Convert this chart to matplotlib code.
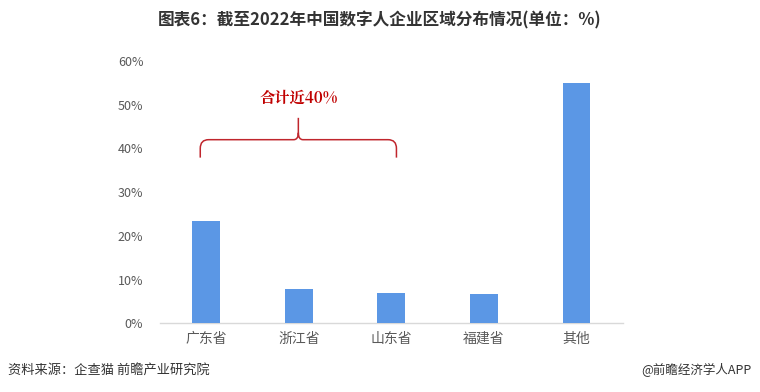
import matplotlib
matplotlib.use("Agg")
import matplotlib.pyplot as plt
from matplotlib.path import Path
from matplotlib.patches import PathPatch

plt.rcParams['font.family'] = ['Noto Sans CJK SC', 'DejaVu Sans']

categories = ['广东省', '浙江省', '山东省', '福建省', '其他']
values = [23.3, 7.9, 6.9, 6.6, 54.9]
yticks = [0, 10, 20, 30, 40, 50, 60]
ytick_labels = ['0%', '10%', '20%', '30%', '40%', '50%', '60%']
title = '图表6：截至2022年中国数字人企业区域分布情况(单位：%)'
annot = '合计近40%'
source = '资料来源：企查猫 前瞻产业研究院'
credit = '@前瞻经济学人APP'

fig = plt.figure(figsize=(7.6, 3.92), dpi=100)
ax = fig.add_axes([160/760, 1-323.3/392, 462.7/760, (323.3-61)/392])

x = list(range(len(categories)))
ax.bar(x, values, width=0.3, color='#5B97E5', zorder=3)
ax.set_xlim(-0.5, len(categories)-0.5)
ax.set_ylim(0, 60)
ax.set_yticks(yticks)
ax.set_yticklabels(ytick_labels)
ax.set_xticks(x)
ax.set_xticklabels(categories)
for s in ['top', 'right', 'left']:
    ax.spines[s].set_visible(False)
ax.spines['bottom'].set_color('#d9d9d9')
ax.spines['bottom'].set_linewidth(1)
ax.tick_params(axis='both', length=0)
ax.tick_params(axis='y', colors='#595959', labelsize=9, pad=12)
ax.tick_params(axis='x', colors='#595959', labelsize=10, pad=6)

# curly bracket spanning the first three bars
xl, xr, xc = -0.065, 2.055, 0.995
yb, ye, yt = 42.0, 37.9, 47.0
rx, ry = 0.09, 2.0
cx, cy = 0.05, 1.6
verts = [(xl, ye), (xl, yb - ry), (xl, yb), (xl + rx, yb),
         (xc - cx, yb), (xc, yb), (xc, yb + cy), (xc, yt),
         (xc, yb + cy), (xc, yb), (xc + cx, yb),
         (xr - rx, yb), (xr, yb), (xr, yb - ry), (xr, ye)]
codes = [Path.MOVETO, Path.LINETO, Path.CURVE3, Path.CURVE3,
         Path.LINETO, Path.CURVE3, Path.CURVE3, Path.LINETO,
         Path.MOVETO, Path.CURVE3, Path.CURVE3,
         Path.LINETO, Path.CURVE3, Path.CURVE3, Path.LINETO]
ax.add_patch(PathPatch(Path(verts, codes), fill=False, edgecolor='#C0262D', lw=1.1, zorder=4))
ax.text(xc, 51.5, annot, ha='center', va='center', color='#C00000', fontsize=11,
        fontweight='bold', family=['Noto Serif CJK SC', 'Noto Sans CJK SC', 'DejaVu Serif'])

fig.text(0.5, 1-20/392, title, ha='center', va='center', fontsize=12, fontweight='bold', color='#333333')
fig.text(8/760, 1-370/392, source, ha='left', va='center', fontsize=9.5, color='#333333')
fig.text(752/760, 1-370/392, credit, ha='right', va='center', fontsize=9, color='#333333')

fig.savefig('out.png', dpi=100)
